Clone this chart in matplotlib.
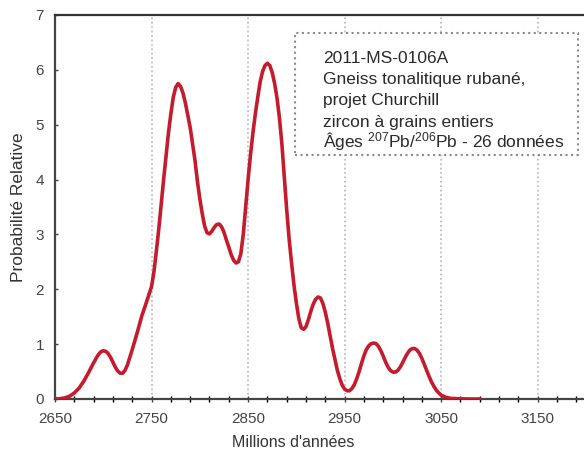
import numpy as np
import matplotlib
matplotlib.use("Agg")
import matplotlib.pyplot as plt
from matplotlib.patches import Rectangle

plt.rcParams['font.family'] = ['Liberation Sans', 'DejaVu Sans']

# age (Ma) / relative probability
ages = [2650, 2655, 2660, 2665, 2670, 2675, 2680, 2685, 2690, 2692.5,
        2695, 2697.5, 2700, 2702.5, 2705, 2707.5, 2710, 2712.5, 2715, 2717.5,
        2720, 2722.5, 2725, 2727.5, 2730, 2735, 2740, 2745, 2750, 2752.5,
        2755, 2757.5, 2760, 2762.5, 2765, 2767.5, 2770, 2772.5, 2775, 2777.5,
        2780, 2782.5, 2785, 2787.5, 2790, 2792.5, 2795, 2797.5, 2800, 2802.5,
        2805, 2807.5, 2810, 2812.5, 2815, 2817.5, 2820, 2822.5, 2825, 2827.5,
        2830, 2832.5, 2835, 2837.5, 2840, 2842.5, 2845, 2847.5, 2850, 2852.5,
        2855, 2857.5, 2860, 2862.5, 2865, 2867.5, 2870, 2872.5, 2875, 2877.5,
        2880, 2882.5, 2885, 2887.5, 2890, 2892.5, 2895, 2897.5, 2900, 2902.5,
        2905, 2907.5, 2910, 2912.5, 2915, 2917.5, 2920, 2922.5, 2925, 2927.5,
        2930, 2932.5, 2935, 2937.5, 2940, 2942.5, 2945, 2947.5, 2950, 2952.5,
        2955, 2957.5, 2960, 2962.5, 2965, 2967.5, 2970, 2972.5, 2975, 2977.5,
        2980, 2982.5, 2985, 2987.5, 2990, 2992.5, 2995, 2997.5, 3000, 3002.5,
        3005, 3007.5, 3010, 3012.5, 3015, 3017.5, 3020, 3022.5, 3025, 3027.5,
        3030, 3032.5, 3035, 3037.5, 3040, 3042.5, 3045, 3047.5, 3050, 3055,
        3060, 3070, 3080, 3090]
prob = [0.00, 0.005, 0.02, 0.05, 0.11, 0.20, 0.33, 0.49, 0.66, 0.74,
        0.81, 0.86, 0.88, 0.87, 0.83, 0.76, 0.67, 0.58, 0.51, 0.47,
        0.47, 0.52, 0.62, 0.76, 0.90, 1.20, 1.52, 1.78, 2.05, 2.32,
        2.70, 3.10, 3.55, 4.00, 4.42, 4.85, 5.20, 5.50, 5.68, 5.75,
        5.70, 5.58, 5.40, 5.18, 4.95, 4.65, 4.35, 3.97, 3.65, 3.38,
        3.15, 3.03, 3.01, 3.06, 3.13, 3.18, 3.19, 3.14, 3.04, 2.90,
        2.77, 2.63, 2.53, 2.48, 2.50, 2.65, 3.00, 3.50, 4.00, 4.45,
        4.85, 5.20, 5.50, 5.78, 5.97, 6.08, 6.12, 6.08, 5.95, 5.75,
        5.48, 5.12, 4.65, 4.05, 3.45, 2.92, 2.48, 2.08, 1.75, 1.47,
        1.30, 1.27, 1.32, 1.45, 1.60, 1.73, 1.82, 1.86, 1.84, 1.74,
        1.58, 1.38, 1.15, 0.92, 0.72, 0.52, 0.37, 0.25, 0.18, 0.15,
        0.15, 0.19, 0.26, 0.37, 0.50, 0.65, 0.79, 0.90, 0.97, 1.01,
        1.02, 1.01, 0.96, 0.88, 0.78, 0.67, 0.58, 0.52, 0.49, 0.49,
        0.52, 0.58, 0.66, 0.75, 0.83, 0.89, 0.92, 0.92, 0.89, 0.83,
        0.74, 0.63, 0.52, 0.41, 0.31, 0.23, 0.16, 0.11, 0.07, 0.03,
        0.012, 0.003, 0.0, 0.0]

xticks = [2650, 2750, 2850, 2950, 3050, 3150]
yticks = [0, 1, 2, 3, 4, 5, 6, 7]

info = ["2011-MS-0106A",
        "Gneiss tonalitique rubané,",
        "projet Churchill",
        "zircon à grains entiers",
        r"Âges $\mathregular{^{207}}$Pb/$\mathregular{^{206}}$Pb - 26 données"]

fig = plt.figure(figsize=(5.84, 4.55), dpi=100)
ax = fig.add_axes([55/584, 1 - 399/455, 531/584, 384/455])

ax.plot(ages, prob, color='#c41c2c', lw=2.6, solid_joinstyle='round',
        solid_capstyle='round', zorder=3)

ax.set_xlim(2650, 3200)
ax.set_ylim(0, 7)
ax.set_xticks(xticks)
ax.set_xticks(np.arange(2650, 3200, 20), minor=True)
ax.set_yticks(yticks)

ax.grid(axis='x', which='major', linestyle=':', color='#b5b5b5', lw=1.2)
ax.set_axisbelow(True)

for s in ['left', 'bottom']:
    ax.spines[s].set_color('#444444')
    ax.spines[s].set_linewidth(1.6)
ax.spines['top'].set_color('#333333')
ax.spines['top'].set_linewidth(1.6)
ax.spines['right'].set_visible(False)

ax.tick_params(axis='both', labelsize=11, colors='#444444', labelcolor='#444444')
ax.tick_params(axis='x', which='major', direction='inout', length=5, width=1, pad=7)
ax.tick_params(axis='x', which='minor', direction='inout', length=4, width=1)
ax.tick_params(axis='y', direction='in', length=2, width=1, pad=8)

ax.set_xlabel("Millions d'années", fontsize=11.5, color='#333333')
ax.xaxis.set_label_coords(0.448, -0.093)
ax.set_ylabel("Probabilité Relative", fontsize=12.5, color='#333333')
ax.yaxis.set_label_coords(-0.054, 0.5)

# sample description box
box = Rectangle((0.452, 0.635), 0.533, 0.318, transform=ax.transAxes,
                facecolor='white', edgecolor='#8a8a8a', linestyle=':', lw=1.5, zorder=2)
ax.add_patch(box)
baselines = [63, 84, 105, 127, 148]
for line, yb in zip(info, baselines):
    ax.text(0.505, (399 - yb) / 384, line, transform=ax.transAxes, fontsize=12.5,
            color='#2a2a2a', va='baseline', ha='left', zorder=4)

fig.savefig('out.png', dpi=100)
